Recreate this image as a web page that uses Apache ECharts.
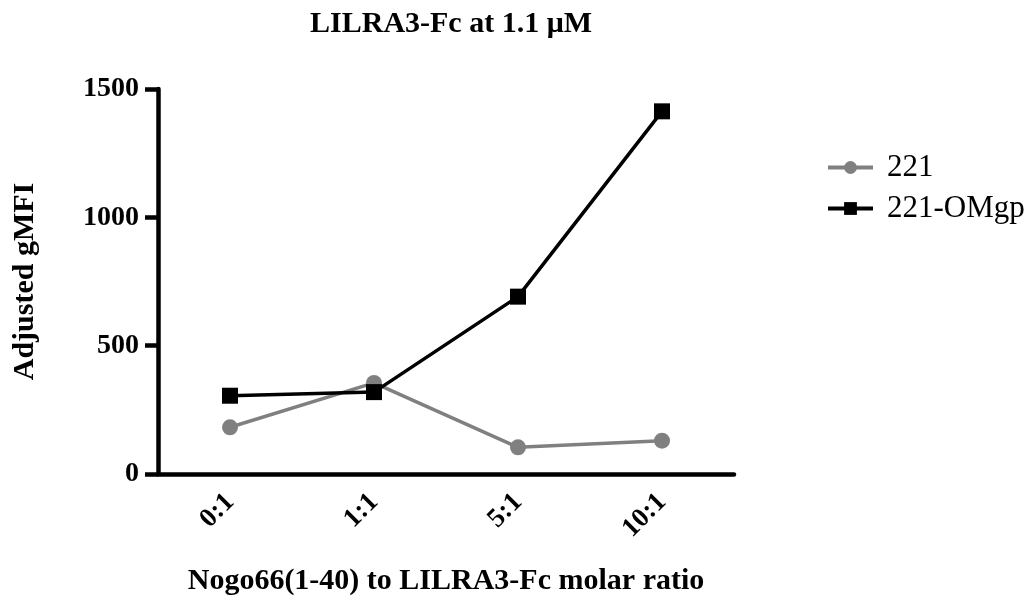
<!DOCTYPE html>
<html>
<head>
<meta charset="utf-8">
<script src="https://cdn.jsdelivr.net/npm/echarts@6/dist/echarts.min.js"></script>
<style>
  html, body { margin: 0; padding: 0; background: #fff; }
  #chart { width: 1032px; height: 607px; }
</style>
</head>
<body>
<div id="chart"></div>
<script>
  // molar ratio categories
  const ratios = ['0:1', '1:1', '5:1', '10:1'];
  // adjusted gMFI
  const cells221 = [182, 355, 104, 130];
  const cellsOMgp = [305, 319, 691, 1413];

  const serif = '"Liberation Serif", "DejaVu Serif", serif';

  let chart = echarts.init(document.getElementById('chart'));
  chart.setOption({
    animation: false,
    title: {
      text: 'LILRA3-Fc at 1.1 μM',
      left: 446,
      textAlign: 'center',
      top: 4,
      textStyle: { fontFamily: serif, fontWeight: 'bold', fontSize: 30, color: '#000' }
    },
    legend: {
      orient: 'vertical',
      left: 821,
      top: 147,
      itemWidth: 45,
      itemHeight: 16,
      itemGap: 10,
      lineStyle: { width: 4 },
      textStyle: { fontFamily: serif, fontSize: 31, color: '#000', padding: [0, 0, 0, 9] },
      data: ['221', '221-OMgp']
    },
    grid: { left: 158, right: 298, top: 89, bottom: 133 },
    xAxis: {
      type: 'category',
      data: ratios,
      boundaryGap: true,
      name: 'Nogo66(1-40) to LILRA3-Fc molar ratio',
      nameLocation: 'middle',
      nameGap: 92,
      nameTextStyle: { fontFamily: serif, fontWeight: 'bold', fontSize: 30, color: '#000' },
      axisLine: { lineStyle: { color: '#000', width: 4.5 } },
      axisTick: { alignWithLabel: true, length: 13, lineStyle: { color: '#000', width: 4.5 } },
      axisLabel: {
        rotate: 45,
        margin: 24,
        fontFamily: serif,
        fontWeight: 'bold',
        fontSize: 27,
        color: '#000'
      }
    },
    yAxis: {
      type: 'value',
      min: 0,
      max: 1500,
      interval: 500,
      name: 'Adjusted gMFI',
      nameLocation: 'middle',
      nameGap: 118,
      nameTextStyle: { fontFamily: serif, fontWeight: 'bold', fontSize: 30, color: '#000' },
      splitLine: { show: false },
      axisLine: { show: true, lineStyle: { color: '#000', width: 4.5 } },
      axisTick: { show: true, length: 13, lineStyle: { color: '#000', width: 4.5 } },
      axisLabel: {
        margin: 19,
        fontFamily: serif,
        fontWeight: 'bold',
        fontSize: 28,
        color: '#000',
        formatter: function (v) { return String(v); }
      }
    },
    series: [
      {
        name: '221',
        type: 'line',
        data: cells221,
        symbol: 'circle',
        symbolSize: 16,
        itemStyle: { color: '#808080' },
        lineStyle: { color: '#808080', width: 3.5 }
      },
      {
        name: '221-OMgp',
        type: 'line',
        data: cellsOMgp,
        symbol: 'rect',
        symbolSize: 16,
        itemStyle: { color: '#000' },
        lineStyle: { color: '#000', width: 3.5 }
      }
    ]
  });
</script>
</body>
</html>
